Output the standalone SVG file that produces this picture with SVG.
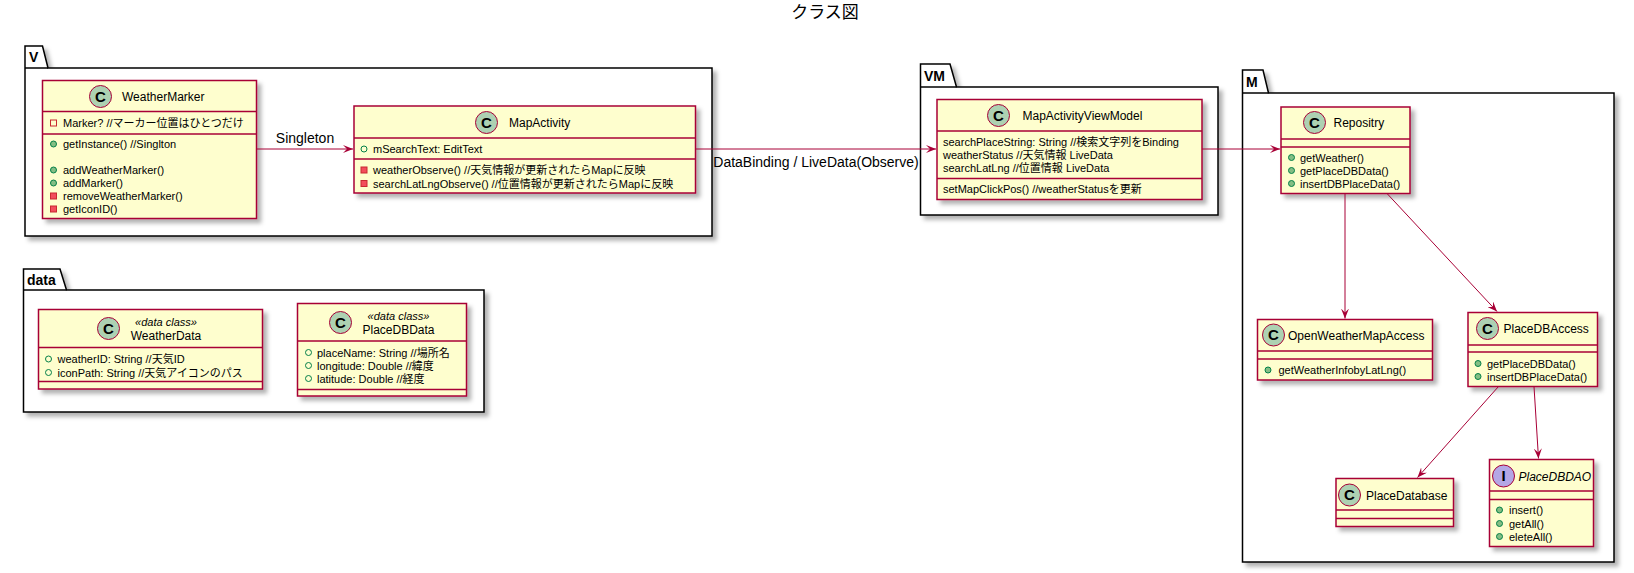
<svg xmlns="http://www.w3.org/2000/svg" width="1634" height="573" viewBox="0 0 1634 573">
  <style>
    text { font-family: "Liberation Sans", "Noto Sans CJK JP", sans-serif; fill: #000; }
    .title { font-size: 17px; text-anchor: middle; }
    .pkg { fill: #fff; stroke: #000; stroke-width: 1.5; }
    .pkgline { fill: none; stroke: #000; stroke-width: 1.5; }
    .pkgname { font-size: 14px; font-weight: bold; }
    .box { fill: #FEFECE; stroke: #A80036; stroke-width: 1.5; }
    .sep { stroke: #A80036; stroke-width: 1.5; fill: none; }
    .cls { fill: #ADD1B2; stroke: #A80036; stroke-width: 1; }
    .ifc { fill: #B4A7E5; stroke: #A80036; stroke-width: 1; }
    .glyph { font-size: 15px; font-weight: bold; text-anchor: middle; }
    .name { font-size: 12px; }
    .iname { font-size: 12px; font-style: italic; }
    .stereo { font-size: 11px; font-style: italic; text-anchor: middle; }
    .cname { font-size: 12px; text-anchor: middle; }
    .mem { font-size: 11px; }
    .pubm { fill: #84BE84; stroke: #038048; stroke-width: 1; }
    .pubf { fill: none; stroke: #038048; stroke-width: 1; }
    .privf { fill: none; stroke: #C82930; stroke-width: 1; }
    .privm { fill: #F24D5C; stroke: #C82930; stroke-width: 1; }
    .edge { stroke: #A80036; stroke-width: 1; fill: none; marker-end: url(#arrow); }
    .elabel { font-size: 14px; text-anchor: middle; }
  </style>
  <defs>
    <filter id="shadow" x="-10%" y="-10%" width="130%" height="130%">
      <feDropShadow dx="4" dy="4" stdDeviation="2" flood-color="#000" flood-opacity="0.3"/>
    </filter>
    <marker id="arrow" viewBox="0 0 10 8" refX="10" refY="4" markerWidth="10" markerHeight="8" markerUnits="userSpaceOnUse" orient="auto">
      <path d="M0,0 L10,4 L0,8 L4,4 Z" fill="#A80036"/>
    </marker>
  </defs>

  <text class="title" x="825" y="18">クラス図</text>

  <!-- packages -->
  <g id="pkg-V">
    <path class="pkg" filter="url(#shadow)" d="M25,46 L42.5,46 L48,68 L712,68 L712,236 L25,236 Z"/>
    <path class="pkgline" d="M25,68 L48,68"/>
    <text class="pkgname" x="29" y="62">V</text>
  </g>
  <g id="pkg-VM">
    <path class="pkg" filter="url(#shadow)" d="M920.5,64 L950,64 L956.5,87 L1218,87 L1218,215 L920.5,215 Z"/>
    <path class="pkgline" d="M920.5,87 L956.5,87"/>
    <text class="pkgname" x="924" y="81">VM</text>
  </g>
  <g id="pkg-M">
    <path class="pkg" filter="url(#shadow)" d="M1242.5,70 L1263,70 L1268.5,93 L1614,93 L1614,562 L1242.5,562 Z"/>
    <path class="pkgline" d="M1242.5,93 L1268.5,93"/>
    <text class="pkgname" x="1246" y="87">M</text>
  </g>
  <g id="pkg-data">
    <path class="pkg" filter="url(#shadow)" d="M23.5,269 L60,269 L66.5,290 L484,290 L484,412 L23.5,412 Z"/>
    <path class="pkgline" d="M23.5,290 L66.5,290"/>
    <text class="pkgname" x="27" y="285">data</text>
  </g>

  <!-- classes -->
  <g id="WeatherMarker">
    <rect class="box" filter="url(#shadow)" x="42.5" y="80.5" width="214" height="138"/>
    <circle class="cls" cx="100.5" cy="96.5" r="11"/>
    <text class="glyph" x="100.5" y="101.5">C</text>
    <text class="name" x="122" y="100.5">WeatherMarker</text>
    <line class="sep" x1="42.5" y1="111.5" x2="256.5" y2="111.5"/>
    <rect class="privf" x="50.5" y="120" width="6" height="6"/>
    <text class="mem" x="63" y="127">Marker? //マーカー位置はひとつだけ</text>
    <line class="sep" x1="42.5" y1="134" x2="256.5" y2="134"/>
    <circle class="pubm" cx="53.5" cy="144" r="3"/>
    <text class="mem" x="63" y="148">getInstance() //Singlton</text>
    <circle class="pubm" cx="53.5" cy="170" r="3"/>
    <text class="mem" x="63" y="174">addWeatherMarker()</text>
    <circle class="pubm" cx="53.5" cy="183" r="3"/>
    <text class="mem" x="63" y="187">addMarker()</text>
    <rect class="privm" x="50.5" y="193" width="6" height="6"/>
    <text class="mem" x="63" y="200">removeWeatherMarker()</text>
    <rect class="privm" x="50.5" y="206" width="6" height="6"/>
    <text class="mem" x="63" y="213">getIconID()</text>
  </g>

  <g id="MapActivity">
    <rect class="box" filter="url(#shadow)" x="354" y="106" width="341.5" height="87"/>
    <circle class="cls" cx="486.5" cy="122.5" r="11"/>
    <text class="glyph" x="486.5" y="127.5">C</text>
    <text class="name" x="509" y="127">MapActivity</text>
    <line class="sep" x1="354" y1="138" x2="695.5" y2="138"/>
    <circle class="pubf" cx="364" cy="149" r="3"/>
    <text class="mem" x="373" y="153">mSearchText: EditText</text>
    <line class="sep" x1="354" y1="159" x2="695.5" y2="159"/>
    <rect class="privm" x="361" y="167" width="6" height="6"/>
    <text class="mem" x="373" y="174">weatherObserve() //天気情報が更新されたらMapに反映</text>
    <rect class="privm" x="361" y="180.5" width="6" height="6"/>
    <text class="mem" x="373" y="187.5">searchLatLngObserve() //位置情報が更新されたらMapに反映</text>
  </g>

  <g id="MapActivityViewModel">
    <rect class="box" filter="url(#shadow)" x="937" y="99.5" width="265" height="100"/>
    <circle class="cls" cx="998.5" cy="115.5" r="11"/>
    <text class="glyph" x="998.5" y="120.5">C</text>
    <text class="name" x="1022.5" y="120">MapActivityViewModel</text>
    <line class="sep" x1="937" y1="131" x2="1202" y2="131"/>
    <text class="mem" x="943" y="145.5">searchPlaceString: String //検索文字列をBinding</text>
    <text class="mem" x="943" y="159">weatherStatus //天気情報 LiveData</text>
    <text class="mem" x="943" y="172">searchLatLng //位置情報 LiveData</text>
    <line class="sep" x1="937" y1="178.5" x2="1202" y2="178.5"/>
    <text class="mem" x="943" y="193">setMapClickPos() //weatherStatusを更新</text>
  </g>

  <g id="Repositry">
    <rect class="box" filter="url(#shadow)" x="1281" y="107" width="129" height="86.5"/>
    <circle class="cls" cx="1314.5" cy="122.5" r="11"/>
    <text class="glyph" x="1314.5" y="127.5">C</text>
    <text class="name" x="1333.5" y="127">Repositry</text>
    <line class="sep" x1="1281" y1="139" x2="1410" y2="139"/>
    <line class="sep" x1="1281" y1="147" x2="1410" y2="147"/>
    <circle class="pubm" cx="1291.5" cy="157.5" r="3"/>
    <text class="mem" x="1300" y="161.5">getWeather()</text>
    <circle class="pubm" cx="1291.5" cy="170.5" r="3"/>
    <text class="mem" x="1300" y="174.5">getPlaceDBData()</text>
    <circle class="pubm" cx="1291.5" cy="183.5" r="3"/>
    <text class="mem" x="1300" y="187.5">insertDBPlaceData()</text>
  </g>

  <g id="OpenWeatherMapAccess">
    <rect class="box" filter="url(#shadow)" x="1257.5" y="319.5" width="175" height="60.5"/>
    <circle class="cls" cx="1273.5" cy="335" r="11"/>
    <text class="glyph" x="1273.5" y="340">C</text>
    <text class="name" x="1288" y="339.5">OpenWeatherMapAccess</text>
    <line class="sep" x1="1257.5" y1="351" x2="1432.5" y2="351"/>
    <line class="sep" x1="1257.5" y1="359" x2="1432.5" y2="359"/>
    <circle class="pubm" cx="1268" cy="370" r="3"/>
    <text class="mem" x="1278.5" y="374">getWeatherInfobyLatLng()</text>
  </g>

  <g id="PlaceDBAccess">
    <rect class="box" filter="url(#shadow)" x="1468" y="312.5" width="129.5" height="74"/>
    <circle class="cls" cx="1487.5" cy="328.5" r="11"/>
    <text class="glyph" x="1487.5" y="333.5">C</text>
    <text class="name" x="1503.5" y="333">PlaceDBAccess</text>
    <line class="sep" x1="1468" y1="345" x2="1597.5" y2="345"/>
    <line class="sep" x1="1468" y1="352" x2="1597.5" y2="352"/>
    <circle class="pubm" cx="1478" cy="363.5" r="3"/>
    <text class="mem" x="1487" y="367.5">getPlaceDBData()</text>
    <circle class="pubm" cx="1478" cy="376.5" r="3"/>
    <text class="mem" x="1487" y="380.5">insertDBPlaceData()</text>
  </g>

  <g id="PlaceDatabase">
    <rect class="box" filter="url(#shadow)" x="1336" y="478.5" width="117.5" height="48"/>
    <circle class="cls" cx="1349.5" cy="495" r="11"/>
    <text class="glyph" x="1349.5" y="500">C</text>
    <text class="name" x="1366" y="499.5">PlaceDatabase</text>
    <line class="sep" x1="1336" y1="510" x2="1453.5" y2="510"/>
    <line class="sep" x1="1336" y1="518.5" x2="1453.5" y2="518.5"/>
  </g>

  <g id="PlaceDBDAO">
    <rect class="box" filter="url(#shadow)" x="1489.5" y="459.5" width="104" height="87"/>
    <circle class="ifc" cx="1503.5" cy="476" r="11"/>
    <text class="glyph" x="1503.5" y="481">I</text>
    <text class="iname" x="1518.5" y="480.5">PlaceDBDAO</text>
    <line class="sep" x1="1489.5" y1="491" x2="1593.5" y2="491"/>
    <line class="sep" x1="1489.5" y1="499.5" x2="1593.5" y2="499.5"/>
    <circle class="pubm" cx="1499.5" cy="510" r="3"/>
    <text class="mem" x="1509" y="514">insert()</text>
    <circle class="pubm" cx="1499.5" cy="523.5" r="3"/>
    <text class="mem" x="1509" y="527.5">getAll()</text>
    <circle class="pubm" cx="1499.5" cy="536.5" r="3"/>
    <text class="mem" x="1509" y="540.5">eleteAll()</text>
  </g>

  <g id="WeatherData">
    <rect class="box" filter="url(#shadow)" x="38.5" y="309.5" width="224" height="79.5"/>
    <circle class="cls" cx="108.5" cy="328.5" r="11"/>
    <text class="glyph" x="108.5" y="333.5">C</text>
    <text class="stereo" x="166" y="325.5">«data class»</text>
    <text class="cname" x="166" y="340">WeatherData</text>
    <line class="sep" x1="38.5" y1="347.5" x2="262.5" y2="347.5"/>
    <circle class="pubf" cx="48.5" cy="359" r="3"/>
    <text class="mem" x="57.5" y="363">weatherID: String //天気ID</text>
    <circle class="pubf" cx="48.5" cy="372.5" r="3"/>
    <text class="mem" x="57.5" y="376.5">iconPath: String //天気アイコンのパス</text>
    <line class="sep" x1="38.5" y1="381.5" x2="262.5" y2="381.5"/>
  </g>

  <g id="PlaceDBData">
    <rect class="box" filter="url(#shadow)" x="297.5" y="303.5" width="169" height="92.5"/>
    <circle class="cls" cx="340.5" cy="322.5" r="11"/>
    <text class="glyph" x="340.5" y="327.5">C</text>
    <text class="stereo" x="398.5" y="319.5">«data class»</text>
    <text class="cname" x="398.5" y="334">PlaceDBData</text>
    <line class="sep" x1="297.5" y1="341" x2="466.5" y2="341"/>
    <circle class="pubf" cx="308.5" cy="352.5" r="3"/>
    <text class="mem" x="317" y="356.5">placeName: String //場所名</text>
    <circle class="pubf" cx="308.5" cy="365.5" r="3"/>
    <text class="mem" x="317" y="369.5">longitude: Double //緯度</text>
    <circle class="pubf" cx="308.5" cy="378.5" r="3"/>
    <text class="mem" x="317" y="382.5">latitude: Double //経度</text>
    <line class="sep" x1="297.5" y1="389.5" x2="466.5" y2="389.5"/>
  </g>

  <!-- connectors -->
  <g id="connectors">
    <line class="edge" x1="256.5" y1="149" x2="353" y2="149"/>
    <text class="elabel" x="305" y="143">Singleton</text>
    <line class="edge" x1="695.5" y1="149" x2="936" y2="149"/>
    <text class="elabel" x="816" y="166.5">DataBinding / LiveData(Observe)</text>
    <line class="edge" x1="1202" y1="149" x2="1280" y2="149"/>
    <line class="edge" x1="1345" y1="193.5" x2="1345" y2="318.5"/>
    <line class="edge" x1="1387" y1="193.5" x2="1497" y2="311.5"/>
    <line class="edge" x1="1498.5" y1="386.5" x2="1417.5" y2="477.5"/>
    <line class="edge" x1="1534" y1="386.5" x2="1538.5" y2="458.5"/>
  </g>
</svg>
